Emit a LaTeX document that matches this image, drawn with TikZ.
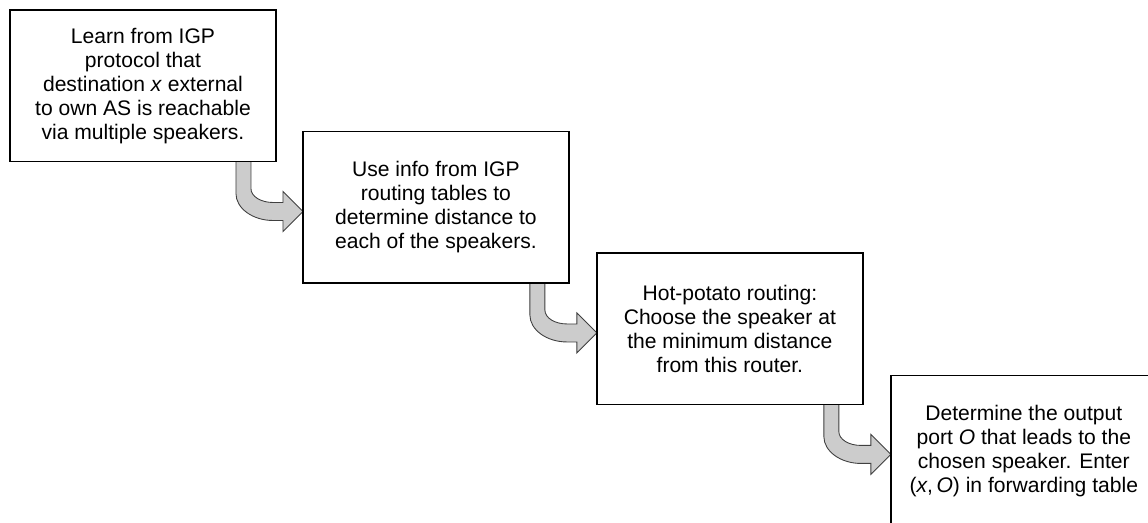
\documentclass[tikz,border=0pt]{standalone}
\usepackage{fontspec}
\setmainfont{Liberation Sans}
\usetikzlibrary{positioning, calc, backgrounds}

\tikzset{
  stepbox/.style={draw, fill=white, line width=1pt, minimum width=5.32cm, minimum height=3.03cm,
    align=center, inner sep=0pt, outer sep=0pt, font=\fontsize{12}{13.66}\selectfont},
  bendfill/.style={fill=gray!40, draw=black!75, line width=0.5pt}
}

% bent block arrow from the bottom of #1 to the left side of #2
\newcommand{\bendarrow}[2]{%
  \path (#1.south) ++(0,-50) coordinate (foot);
  \coordinate (tip) at (#2.west |- foot);
  \draw[bendfill, shift={(tip)}] (-67,50) -- (-67,18)
    .. controls (-67,3) and (-50,-9) .. (-30,-9) -- (-20,-9) -- (-20,-20) -- (0,0)
    -- (-20,20) -- (-20,9) -- (-30,9)
    .. controls (-42,9) and (-52,15) .. (-52,23) -- (-52,50) -- cycle;
}

\begin{document}
\begin{tikzpicture}[x=0.02cm, y=0.02cm]
        \useasboundingbox (0,0) rectangle (1148,-522);

        % Steps
        \node[stepbox, anchor=north west] (learn) at (10,-10)
          {Learn from IGP\\protocol that\\destination \textit{x} external\\to own AS is reachable\\via multiple speakers.};
        \node[stepbox, below right=-0.6cm and 0.54cm of learn.south east] (use)
          {Use info from IGP\\routing tables to\\determine distance to\\each of the speakers.};
        \node[stepbox, below right=-0.6cm and 0.56cm of use.south east] (hot)
          {Hot-potato routing:\\Choose the speaker at\\the minimum distance\\from this router.};
        \node[stepbox, below right=-0.58cm and 0.56cm of hot.south east] (port)
          {Determine the output\\port \textit{O} that leads to the\\chosen speaker. Enter\\(\textit{x},\,\textit{O}) in forwarding table};

        % Arrows
        \begin{scope}[on background layer]
          \bendarrow{learn}{use}
          \bendarrow{use}{hot}
          \bendarrow{hot}{port}
        \end{scope}
      \end{tikzpicture}
\end{document}
